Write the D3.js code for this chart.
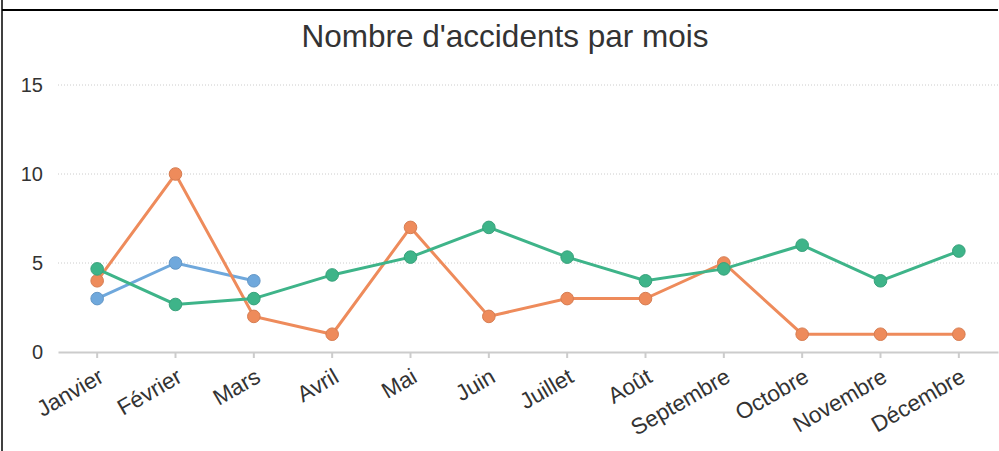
<!DOCTYPE html>
<html>
<head>
<meta charset="utf-8">
<script src="https://cdn.jsdelivr.net/npm/d3@7"></script>
<style>
    body { margin: 0; background: #fff; }
    svg { display: block; font-family: "Liberation Sans", Arial, sans-serif; }
</style>
</head>
<body>
<div id="chart"></div>
<script>
const months = ["Janvier", "Février", "Mars", "Avril", "Mai", "Juin", "Juillet", "Août", "Septembre", "Octobre", "Novembre", "Décembre"];
const blueValues = [3, 5, 4];
const orangeValues = [4, 10, 2, 1, 7, 2, 3, 3, 5, 1, 1, 1];
const greenValues = [4.67, 2.67, 3, 4.33, 5.33, 7, 5.33, 4, 4.67, 6, 4, 5.67];
const yTicks = [0, 5, 10, 15];

const series = [
    { name: "blue", color: "#6fa8dc", values: blueValues },
    { name: "orange", color: "#ee8b5b", values: orangeValues },
    { name: "green", color: "#3eb489", values: greenValues }
];

const width = 999, height = 451;
const margin = { top: 85, right: 1, bottom: 99, left: 58 };

const svg = d3.select("#chart")
    .append("svg")
    .attr("width", width)
    .attr("height", height);

// frame lines
svg.append("line")
    .attr("x1", 2).attr("x2", 998).attr("y1", 10).attr("y2", 10)
    .attr("stroke", "#000").attr("stroke-width", 2);
svg.append("line")
    .attr("x1", 2).attr("x2", 2).attr("y1", 0).attr("y2", height)
    .attr("stroke", "#000").attr("stroke-width", 1.5);

svg.append("text")
    .attr("x", 505)
    .attr("y", 47)
    .attr("text-anchor", "middle")
    .attr("font-size", 31.5)
    .attr("fill", "#333")
    .text("Nombre d'accidents par mois");

const xScale = d3.scaleBand()
    .domain(months)
    .range([margin.left, width - margin.right]);

const yScale = d3.scaleLinear()
    .domain([0, 15])
    .range([height - margin.bottom, margin.top]);

const xc = d => xScale(d) + xScale.bandwidth() / 2;

// grid
svg.append("g")
    .selectAll("line")
    .data(yTicks.filter(t => t > 0))
    .enter().append("line")
    .attr("x1", margin.left)
    .attr("x2", width - margin.right)
    .attr("y1", d => yScale(d))
    .attr("y2", d => yScale(d))
    .attr("stroke", "#ccc")
    .attr("stroke-dasharray", "1,2");

// y axis labels
const yAxis = svg.append("g")
    .attr("transform", `translate(${margin.left},0)`)
    .call(d3.axisLeft(yScale).tickValues(yTicks).tickSize(0).tickPadding(15));
yAxis.select(".domain").remove();
yAxis.selectAll("text")
    .attr("font-size", 20)
    .attr("fill", "#333")
    .attr("font-family", "Liberation Sans, Arial, sans-serif");

// x axis
const xAxis = svg.append("g")
    .attr("transform", `translate(0,${height - margin.bottom})`)
    .call(d3.axisBottom(xScale).tickSize(6).tickSizeOuter(0));
xAxis.select(".domain").attr("stroke", "#ccc").attr("stroke-width", 2);
xAxis.selectAll(".tick line").attr("stroke", "#ccc").attr("stroke-width", 2);
xAxis.selectAll("text")
    .attr("font-size", 22.5)
    .attr("fill", "#333")
    .attr("font-family", "Liberation Sans, Arial, sans-serif")
    .attr("text-anchor", "end")
    .attr("x", 0)
    .attr("y", 0)
    .attr("dy", "0.72em")
    .attr("transform", "translate(0,15) rotate(-30)");

const line = d3.line()
    .x((d, i) => xc(months[i]))
    .y(d => yScale(d));

series.forEach(s => {
    svg.append("path")
        .datum(s.values)
        .attr("fill", "none")
        .attr("stroke", s.color)
        .attr("stroke-width", 3)
        .attr("d", line);

    svg.append("g")
        .selectAll("circle")
        .data(s.values)
        .enter().append("circle")
        .attr("cx", (d, i) => xc(months[i]))
        .attr("cy", d => yScale(d))
        .attr("r", 6.3)
        .attr("fill", s.color)
        .attr("stroke", d3.color(s.color).darker(0.3))
        .attr("stroke-width", 1);
});
</script>
</body>
</html>
